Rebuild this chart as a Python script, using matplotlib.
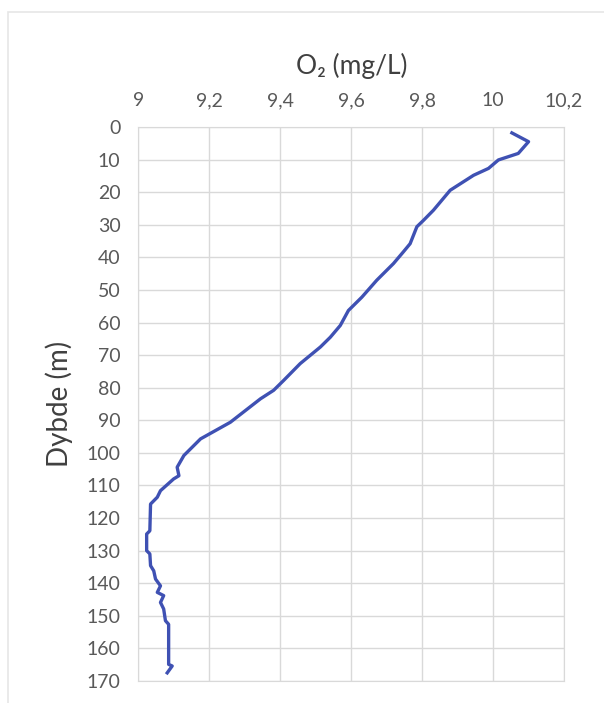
import matplotlib.pyplot as plt
import matplotlib.patches as patches
from matplotlib.ticker import FuncFormatter

# O2 profile
depth = [1.8, 4.5, 8.1, 10.1, 12.7, 14.8, 19.4, 25.5, 28.6, 30.6, 35.8, 38.3, 41.9,
         47.0, 52.2, 56.3, 60.9, 64.5, 67.5, 72.6, 77.8, 80.8, 83.4, 90.6, 95.7,
         100.8, 104.4, 107.0, 108.0, 111.6, 113.6, 115.7, 123.9, 124.9, 130.0,
         131.0, 134.6, 136.2, 138.7, 140.8, 142.8, 143.8, 145.9, 147.9, 151.5,
         152.6, 164.9, 165.4, 167.5]
o2 = [10.053, 10.100, 10.071, 10.015, 9.987, 9.945, 9.879, 9.832, 9.804, 9.785,
      9.766, 9.747, 9.719, 9.672, 9.630, 9.592, 9.569, 9.541, 9.513, 9.456, 9.409,
      9.381, 9.344, 9.259, 9.175, 9.128, 9.109, 9.114, 9.099, 9.062, 9.053, 9.034,
      9.032, 9.023, 9.023, 9.032, 9.034, 9.043, 9.048, 9.062, 9.053, 9.071, 9.062,
      9.071, 9.076, 9.085, 9.085, 9.095, 9.081]

x_ticks = [9.0, 9.2, 9.4, 9.6, 9.8, 10.0, 10.2]
y_ticks = list(range(0, 171, 10))

plt.rcParams['font.family'] = ['Lato', 'DejaVu Sans']

fig = plt.figure(figsize=(6.04, 7.03), dpi=100)
ax = fig.add_axes([0.2293, 0.0313, 0.7045, 0.788])

# outer chart frame
fig.patches.append(patches.Rectangle((8 / 604, -0.05), 1.1, 1 - 12 / 703 + 0.05,
                                     transform=fig.transFigure, fill=False,
                                     edgecolor='#e6e6e6', linewidth=1.2))

ax.plot(o2, depth, color='#3f51b3', linewidth=2.4, solid_joinstyle='round')

ax.set_xlim(9, 10.2)
ax.set_ylim(170, 0)
ax.set_xticks(x_ticks)
ax.set_yticks(y_ticks)
ax.xaxis.set_major_formatter(FuncFormatter(lambda v, p: f'{v:g}'.replace('.', ',')))
ax.xaxis.tick_top()
ax.xaxis.set_label_position('top')
ax.tick_params(length=0, labelsize=14, labelcolor='#595959', pad=13)
ax.grid(True, color='#d9d9d9', linewidth=1)
for s in ax.spines.values():
    s.set_color('#d9d9d9')

ax.set_xlabel('O₂ (mg/L)', fontsize=19, color='#404040', labelpad=13)
ax.set_ylabel('Dybde (m)', fontsize=20, color='#404040', labelpad=10)

fig.savefig('out.png', dpi=100)
